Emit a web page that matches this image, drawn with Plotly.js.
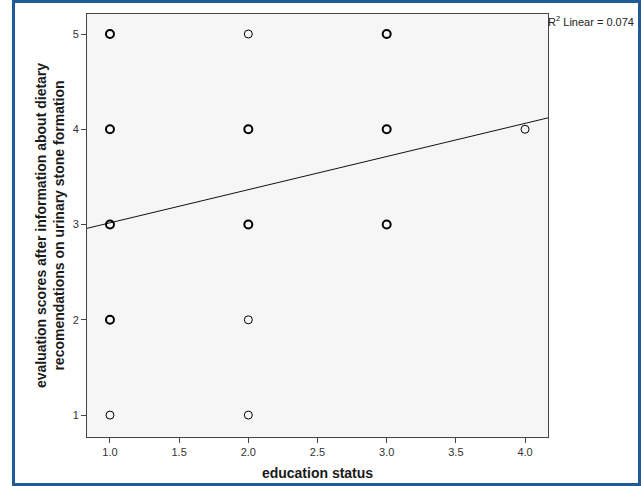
<!DOCTYPE html>
<html>
<head>
<meta charset="utf-8">
<script src="https://cdn.plot.ly/plotly-3.0.1.min.js"></script>
<style>
  html, body { margin: 0; padding: 0; background: #ffffff; }
  #wrap { position: relative; width: 641px; height: 486px; }
  #chart { width: 641px; height: 486px; }
  #frame { position: absolute; left: 12px; top: 0px; width: 623px; height: 480px;
           border: 3px solid #1e5b97; pointer-events: none; }
</style>
</head>
<body>
<div id="wrap">
  <div id="chart"></div>
  <div id="frame"></div>
</div>
<script>
// Data
const educationStatus = [1, 1, 1, 1, 1, 2, 2, 2, 2, 2, 3, 3, 3, 4];
const evaluationScore = [1, 2, 3, 4, 5, 1, 2, 3, 4, 5, 3, 4, 5, 4];
// estimated number of overlapping cases at each point (bold rings = several)
const caseCounts      = [1, 3, 6, 5, 4, 1, 1, 4, 4, 1, 2, 3, 2, 1];
// fit line
const fitIntercept = 2.67;
const fitSlope = 0.348;
const r2Label = "R<sup>2</sup> Linear = 0.074";
const xTitle = "education status";
const yTitle = "evaluation scores after information about dietary<br>recomendations on urinary stone formation";

const xRange = [0.834, 4.166];
const yRange = [0.77, 5.21];

const scatter = {
  x: educationStatus,
  y: evaluationScore,
  type: 'scatter',
  mode: 'markers',
  marker: {
    symbol: 'circle-open',
    size: 8,
    color: '#000000',
    line: { color: '#000000', width: caseCounts.map(c => c > 1 ? 2 : 1) }
  },
  hoverinfo: 'x+y',
  showlegend: false
};

const fit = {
  x: xRange,
  y: xRange.map(v => fitIntercept + fitSlope * v),
  type: 'scatter',
  mode: 'lines',
  line: { color: '#111111', width: 1 },
  hoverinfo: 'skip',
  showlegend: false
};

const tickFont = { family: 'Liberation Sans, Arial, sans-serif', size: 11, color: '#333333' };
const titleFont = { family: 'Liberation Sans, Arial, sans-serif', size: 14, color: '#1a1a1a', weight: 'bold' };

const layout = {
  width: 641,
  height: 486,
  margin: { l: 87, r: 93, t: 14, b: 49 },
  paper_bgcolor: '#ffffff',
  plot_bgcolor: '#f6f6f6',
  xaxis: {
    range: xRange,
    tickmode: 'linear', tick0: 1, dtick: 0.5, tickformat: '.1f',
    ticks: 'outside', ticklen: 5, tickcolor: '#444444', tickwidth: 1,
    showline: true, linecolor: '#444444', linewidth: 1, mirror: true,
    showgrid: false, zeroline: false,
    tickfont: tickFont,
    title: { text: '<b>' + xTitle + '</b>', font: titleFont, standoff: 10 }
  },
  yaxis: {
    range: yRange,
    tickmode: 'linear', tick0: 1, dtick: 1,
    ticks: 'outside', ticklen: 5, tickcolor: '#444444', tickwidth: 1,
    showline: true, linecolor: '#444444', linewidth: 1, mirror: true,
    showgrid: false, zeroline: false,
    tickfont: tickFont,
    title: { text: '<b>' + yTitle + '</b>', font: titleFont, standoff: 4 }
  },
  annotations: [{
    text: r2Label,
    xref: 'paper', yref: 'paper',
    x: 1, y: 1, xanchor: 'left', yanchor: 'top',
    xshift: -2, yshift: 2,
    showarrow: false,
    font: { family: 'Liberation Sans Narrow, Liberation Sans, Arial, sans-serif', size: 11, color: '#222222' }
  }]
};

Plotly.newPlot('chart', [fit, scatter], layout, { displayModeBar: false, staticPlot: true });
</script>
</body>
</html>
